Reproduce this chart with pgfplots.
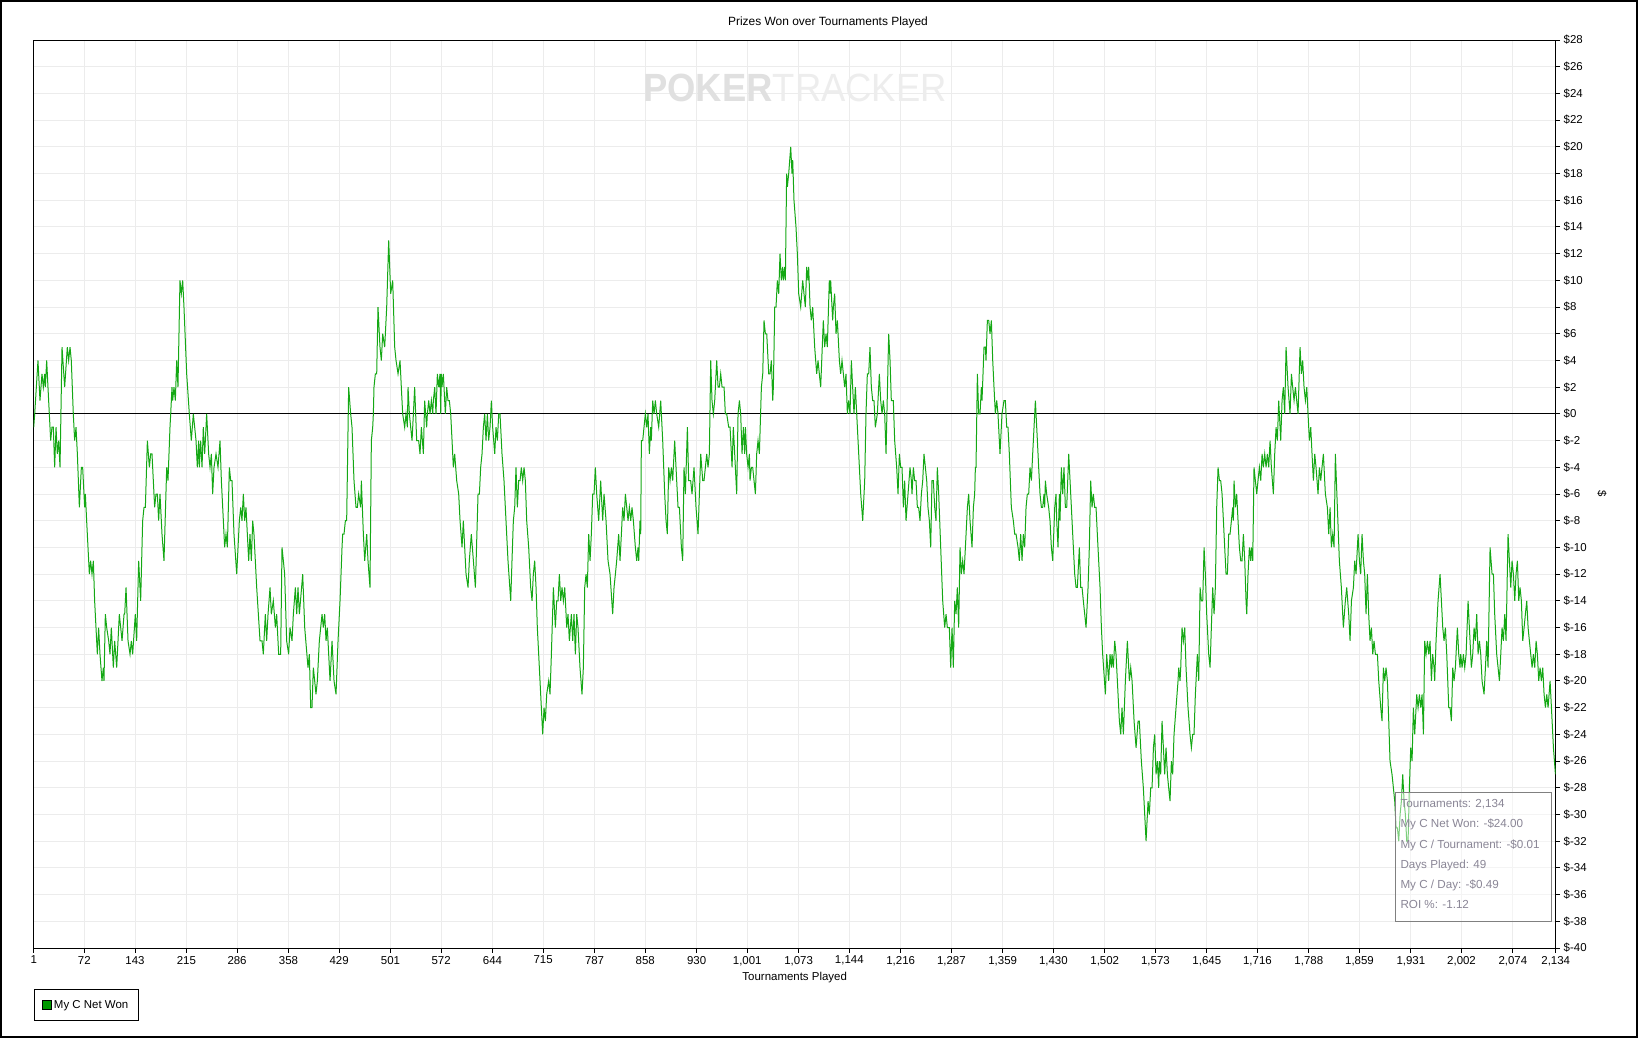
\documentclass[border=0pt]{standalone}
\usepackage{fontspec}
\setmainfont{Liberation Sans}
\usepackage{pgfplots}
\pgfplotsset{compat=1.18}
\definecolor{lineg}{RGB}{20,168,20}
\definecolor{legg}{RGB}{0,153,0}
\definecolor{gridc}{RGB}{236,236,236}
\definecolor{tipc}{RGB}{138,134,150}
\definecolor{wmA}{RGB}{224,224,224}
\definecolor{wmB}{RGB}{237,237,237}
\newcommand{\lbl}{\fontsize{11.5}{13}\selectfont}
\begin{document}
\begin{tikzpicture}[x=1bp,y=1bp]
\useasboundingbox (0,0) rectangle (1640,-1039);
\fill[white] (0,0) rectangle (1640,-1039);
\draw[line width=1.3bp] (1,-1) rectangle (1637,-1037);
\node[font=\fontsize{12}{14}\selectfont] at (828,-22.5) {Prizes Won over Tournaments Played};
\begin{axis}[
  at={(33.7bp,-948bp)}, anchor=south west,
  scale only axis, width=1522bp, height=908bp,
  xmin=1, xmax=2134, ymin=-40, ymax=28,
  axis line style={line width=1bp, black},
  xtick={1,72,143,215,286,358,429,501,572,644,715,787,858,930,1001,1073,1144,1216,1287,1359,1430,1502,1573,1645,1716,1788,1859,1931,2002,2074,2134},
  xticklabels={1,72,143,215,286,358,429,501,572,644,715,787,858,930,{1,001},{1,073},{1,144},{1,216},{1,287},{1,359},{1,430},{1,502},{1,573},{1,645},{1,716},{1,788},{1,859},{1,931},{2,002},{2,074},{2,134}},
  ytick={-40,-38,...,28},
  yticklabels={\$-40,\$-38,\$-36,\$-34,\$-32,\$-30,\$-28,\$-26,\$-24,\$-22,\$-20,\$-18,\$-16,\$-14,\$-12,\$-10,\$-8,\$-6,\$-4,\$-2,\$0,\$2,\$4,\$6,\$8,\$10,\$12,\$14,\$16,\$18,\$20,\$22,\$24,\$26,\$28},
  xtick pos=left, ytick pos=right, yticklabel pos=right,
  tick align=outside, major tick length=4.5bp,
  tick style={black, line width=1bp},
  grid=major, major grid style={gridc, line width=1bp},
  tick label style={font=\lbl},
  /pgf/number format/assume math mode=true,
  xlabel={Tournaments Played},
  xlabel style={font=\lbl, at={(axis description cs:0.5,-0.033)}, anchor=center},
  ylabel={\$},
  ylabel style={font=\lbl, at={(axis description cs:1.0304,0.5)}, anchor=center, rotate=180},
  legend style={at={(axis description cs:0,-0.0455)}, anchor=north west, draw=black, line width=1bp, font=\lbl, inner xsep=8bp, inner ysep=8.5bp},
  legend cell align=left,
  legend image code/.code={\draw[fill=legg, draw=black, line width=0.8bp] (0bp,-4.5bp) rectangle (9bp,4.5bp);},
]
\addplot[black, line width=1bp, forget plot] coordinates {(1,0) (2134,0)};
\addplot[lineg, line width=1bp] table {
x y
1 -1
2.4 0
7.0 4
9.8 1
12.6 3
14.5 2
16.4 3
17.3 2
19.2 4
21.0 2
22.9 0
24.8 -2
26.6 -1
28.5 -1
30.4 -4
32.3 -1
34.1 -3
36.0 -2
37.9 -4
40.7 5
44.4 2
48.1 5
50.0 4
51.9 5
53.7 4
56.5 0
58.4 -2
60.3 -1
62.2 -3
65.0 -7
67.8 -4
69.6 -4
72.4 -7
73.4 -6
75.2 -8
79.0 -12
80.8 -11
82.7 -12
84.6 -11
86.4 -14
90.2 -18
92.0 -16
93.9 -18
96.7 -20
98.6 -19
99.5 -20
101.4 -15
103.3 -16
106.1 -17
107.9 -18
109.8 -16
112.6 -19
114.5 -17
117.3 -19
121.0 -15
124.8 -17
127.6 -15
128.5 -15
130.4 -13
133.2 -17
136.0 -18
137.8 -17
139.7 -18
143.4 -15
145.3 -17
148.1 -11
150.9 -14
153.7 -8
155.6 -7
157.5 -7
160.3 -2
163.1 -4
164.9 -3
166.8 -3
170.5 -7
172.4 -6
174.3 -6
176.1 -8
178.0 -6
180.8 -9
183.6 -11
187.4 -4
189.2 -5
192.0 -1
193.0 0
194.8 2
195.8 1
197.6 2
199.5 1
201.4 4
203.2 2
206.0 10
207.9 9
209.8 10
211.6 8
215.4 3
219.1 0
221.9 -2
224.7 0
226.6 -1
228.5 -2
230.3 -4
232.2 -2
233.1 -4
235.0 -2
236.9 -4
238.7 -1
240.6 -3
243.4 0
246.2 -3
248.1 -4
250.0 -3
251.8 -6
253.7 -4
256.5 -3
259.3 -4
262.1 -2
264.0 -5
266.8 -8
268.6 -10
270.5 -9
272.4 -10
275.2 -4
277.1 -5
278.9 -5
281.7 -9
285.5 -12
289.2 -8
291.1 -7
292.9 -8
294.8 -6
296.7 -8
298.5 -7
300.4 -9
302.3 -11
304.1 -9
306.0 -11
307.9 -8
309.7 -9
313.5 -13
318.2 -17
321.0 -17
322.8 -18
325.6 -15
327.5 -17
329.4 -15
332.2 -13
334.0 -15
336.8 -14
339.7 -16
341.5 -15
344.3 -18
347.1 -18
349.0 -10
350.9 -11
352.7 -12
355.5 -17
358.3 -18
360.2 -16
363.0 -17
364.9 -15
367.7 -13
369.6 -15
371.4 -13
373.3 -15
378.0 -12
380.8 -16
385.4 -19
387.3 -18
389.2 -22
391.0 -22
392.9 -19
394.8 -20
396.6 -21
398.5 -20
401.3 -17
403.2 -16
405.1 -15
406.9 -16
408.8 -15
410.7 -17
412.5 -16
416.3 -20
419.1 -17
421.9 -20
424.7 -21
427.5 -17
430.3 -14
433.1 -10
434.0 -9
435.9 -9
437.8 -8
439.6 -8
442.4 2
445.2 0
447.1 -1
449.9 -5
452.7 -7
454.6 -7
456.4 -6
459.2 -7
460.2 -5
463.0 -9
464.9 -11
467.7 -9
469.5 -11
472.3 -13
474.2 -2
476.1 -1
477.0 0
477.9 2
479.8 3
481.7 3
483.5 8
486.3 5
488.2 4
490.1 6
492.9 5
495.7 8
498.5 13
501.3 9
504.1 10
506.9 5
508.8 4
511.6 3
514.4 4
516.2 2
518.1 0
520.9 -1
522.8 0
524.7 -1
525.6 2
527.5 0
529.3 -1
531.2 -2
533.1 0
534.9 2
537.7 -2
540.5 -2
542.4 -3
544.3 -1
547.1 -3
548.9 1
551.7 -1
552.7 0
554.6 1
556.4 0
558.3 1
560.2 0
561.1 1
563.0 2
564.8 0
566.7 3
568.6 2
570.4 3
571.4 0
572.3 3
573.2 2
575.1 3
577.9 0
579.8 2
581.6 1
583.5 1
585.4 0
587.3 -2
589.1 -4
591.0 -3
593.8 -5
596.6 -6
598.5 -8
601.3 -10
603.1 -8
605.0 -10
606.9 -12
609.7 -13
611.5 -11
614.3 -9
617.2 -11
620.0 -13
623.7 -6
625.6 -6
627.4 -4
629.3 -3
631.2 -1
633.0 0
634.9 -2
636.8 0
638.6 -2
640.5 -1
642.4 1
644.2 -1
647.1 -3
648.9 -1
650.8 -2
652.7 0
654.5 0
657.3 -3
660.1 -5
662.9 -8
665.7 -11
669.5 -14
671.3 -11
673.2 -8
675.1 -7
676.9 -4
678.8 -7
680.7 -5
682.6 -5
684.4 -4
686.3 -5
688.2 -4
690.0 -5
691.9 -8
694.7 -10
697.5 -13
699.4 -14
701.2 -12
703.1 -11
705.0 -13
706.8 -16
708.7 -18
711.5 -21
714.3 -24
716.2 -22
718.1 -23
719.9 -21
722.7 -20
724.6 -21
726.5 -18
729.3 -13
732.1 -16
733.9 -14
735.8 -14
737.7 -12
739.6 -14
741.4 -13
743.3 -14
745.2 -13
748.0 -16
749.8 -15
751.7 -17
754.5 -15
756.4 -17
758.2 -15
760.1 -18
762.0 -15
763.8 -16
766.6 -19
769.4 -21
771.3 -19
773.2 -13
775.1 -12
776.9 -13
778.8 -9
780.7 -11
782.5 -9
784.4 -6
786.3 -6
788.1 -4
790.0 -6
792.8 -8
795.6 -5
798.4 -8
800.3 -6
803.1 -8
805.9 -11
808.7 -12
812.4 -15
814.3 -13
816.2 -12
818.0 -11
820.8 -9
822.7 -11
824.6 -9
826.4 -7
828.3 -8
830.2 -6
832.1 -7
833.9 -8
835.8 -7
837.7 -8
839.5 -7
841.4 -8
844.2 -10
846.1 -11
847.9 -10
848.9 -11
850.7 -8
851.7 -9
852.6 -2
854.5 -2
856.3 -1
858.2 0
860.1 -1
861.9 0
863.8 -3
865.7 -1
866.6 -2
868.5 1
870.4 0
872.2 1
874.1 0
876.9 -1
879.7 1
882.5 -2
885.3 -6
887.2 -8
889.0 -9
890.9 -4
892.8 -5
894.7 -4
896.5 -5
899.3 -2
902.1 -5
904.0 -7
905.9 -7
908.7 -10
910.5 -11
912.4 -4
914.3 -6
917.1 -1
918.9 -5
921.7 -5
923.6 -6
926.4 -4
929.2 -7
932.0 -9
933.9 -6
935.8 -3
938.6 -5
940.4 -5
942.3 -4
944.2 -3
946.0 -4
947.9 -3
949.8 4
951.6 1
953.5 0
955.4 1
958.2 4
960.1 2
961.9 2
963.8 3
965.7 2
968.5 2
970.3 0
972.2 0
975.0 -1
976.9 -1
979.7 -4
981.5 -1
983.4 -3
986.2 -6
988.1 0
990.0 1
991.8 0
993.7 -3
995.6 -1
997.4 -3
998.4 -1
1000.2 -3
1002.1 -4
1004.0 -3
1004.9 -5
1006.8 -4
1008.6 -4
1010.5 -5
1012.4 -6
1014.2 -3
1016.1 -2
1018.0 -3
1020.8 2
1022.7 3
1024.5 7
1026.4 6
1028.3 6
1031.1 3
1032.9 3
1034.8 4
1036.7 1
1037.6 2
1039.5 8
1041.3 8
1043.2 10
1045.1 9
1046.9 12
1048.8 10
1050.6 11
1051.6 10
1053.4 11
1054.4 10
1056.2 18
1057.2 17
1059.1 18
1061.9 20
1063.7 18
1064.7 19
1066.5 16
1069.3 14
1071.2 12
1073.1 9
1075.9 8
1078.7 10
1080.5 9
1082.4 8
1084.3 11
1086.1 10
1087.1 11
1089.0 8
1090.8 7
1092.7 8
1095.5 5
1098.3 3
1100.2 4
1102.0 3
1103.9 2
1107.6 7
1109.5 5
1111.4 6
1113.2 5
1116.0 10
1117.0 9
1117.9 10
1120.7 7
1121.7 8
1123.5 9
1125.4 6
1127.3 7
1130.1 4
1131.9 3
1133.8 4
1135.7 3
1137.5 2
1139.4 3
1141.3 0
1143.1 1
1145.0 0
1146.9 4
1148.7 2
1150.6 0
1152.5 2
1154.4 0
1157.2 -3
1160.0 -6
1162.8 -8
1165.6 -5
1167.4 0
1169.3 3
1171.2 3
1173.0 5
1174.9 2
1176.8 1
1178.6 1
1180.5 -1
1183.3 0
1186.1 3
1188.0 1
1189.9 0
1191.7 1
1193.6 0
1195.5 -3
1199.2 6
1201.1 4
1202.9 1
1205.7 1
1207.6 -2
1210.4 -4
1212.3 -6
1214.2 -3
1216.0 -4
1217.9 -4
1219.8 -7
1221.6 -5
1223.5 -8
1226.3 -6
1229.1 -4
1231.0 -5
1231.9 -6
1233.8 -4
1235.6 -5
1237.5 -5
1239.4 -7
1241.2 -7
1243.1 -8
1245.0 -6
1246.9 -5
1248.7 -3
1250.6 -4
1252.5 -5
1254.3 -7
1256.2 -8
1258.1 -10
1259.9 -5
1261.8 -5
1263.7 -7
1265.5 -8
1267.4 -4
1269.3 -6
1272.1 -10
1274.9 -14
1277.7 -16
1279.6 -15
1281.4 -16
1284.2 -16
1286.1 -19
1288.0 -16
1289.8 -19
1291.7 -14
1293.6 -15
1295.4 -13
1297.3 -16
1299.2 -10
1301.0 -12
1302.9 -11
1304.8 -12
1306.7 -10
1309.5 -7
1311.3 -6
1313.2 -8
1316.0 -10
1317.9 -7
1319.7 -6
1320.7 -4
1321.6 -4
1323.5 3
1325.3 0
1327.2 0
1329.1 2
1330.0 1
1332.8 5
1334.7 5
1335.6 4
1337.5 7
1339.4 7
1341.2 6
1343.1 7
1345.0 4
1346.8 2
1348.7 0
1350.6 1
1352.4 0
1355.2 -3
1358.0 0
1360.8 1
1362.7 1
1364.6 -1
1366.4 -1
1368.3 -3
1371.1 -7
1373.9 -8
1375.8 -9
1377.7 -9
1380.5 -10
1382.3 -11
1384.2 -9
1386.1 -11
1387.9 -9
1389.8 -10
1391.7 -7
1393.5 -6
1395.4 -6
1397.3 -4
1399.2 -5
1401.0 -3
1402.9 -1
1404.8 1
1405.7 0
1407.6 -2
1409.4 -4
1411.3 -6
1413.2 -7
1415.0 -7
1416.9 -6
1417.8 -7
1418.8 -5
1420.6 -6
1423.4 -7
1425.3 -8
1427.2 -10
1429.1 -11
1431.9 -7
1433.7 -6
1434.7 -8
1436.5 -10
1438.4 -6
1439.3 -8
1441.2 -4
1443.1 -6
1444.9 -4
1446.8 -7
1448.7 -7
1451.5 -3
1454.3 -6
1457.1 -9
1459.9 -12
1461.8 -13
1463.6 -13
1466.4 -10
1468.3 -13
1470.2 -13
1472.0 -14
1473.9 -15
1475.8 -16
1478.6 -13
1480.4 -10
1482.3 -5
1484.2 -7
1486.0 -6
1487.9 -7
1489.8 -7
1491.6 -9
1493.5 -11
1495.4 -13
1497.3 -16
1499.1 -18
1502.9 -21
1504.7 -18
1507.5 -20
1509.4 -18
1511.3 -19
1512.2 -18
1514.1 -19
1516.0 -17
1517.8 -18
1519.7 -20
1522.5 -23
1524.4 -24
1526.2 -22
1528.1 -24
1530.9 -20
1533.7 -17
1536.5 -20
1538.4 -19
1540.3 -20
1543.1 -23
1545.9 -25
1548.7 -23
1550.5 -23
1553.3 -26
1556.1 -28
1558.0 -30
1559.9 -32
1562.7 -29
1564.5 -30
1566.4 -28
1568.3 -28
1570.2 -25
1572.0 -24
1573.9 -27
1575.8 -26
1577.6 -28
1578.6 -26
1580.4 -27
1582.3 -23
1584.2 -25
1586.0 -27
1587.9 -25
1589.8 -27
1591.6 -28
1593.5 -29
1595.4 -26
1597.2 -27
1599.1 -24
1601.9 -22
1604.7 -20
1605.7 -19
1607.5 -20
1608.5 -19
1610.3 -16
1612.2 -17
1614.1 -16
1615.9 -19
1618.7 -22
1621.5 -24
1623.4 -25
1625.3 -24
1627.1 -24
1629.0 -21
1631.8 -18
1633.7 -20
1635.6 -13
1637.4 -14
1639.3 -14
1641.2 -10
1643.0 -12
1644.9 -15
1647.7 -18
1649.6 -19
1651.4 -16
1653.3 -13
1655.2 -15
1657.0 -13
1658.9 -7
1660.8 -4
1662.7 -5
1664.5 -5
1666.4 -6
1668.3 -8
1670.1 -10
1672.0 -12
1673.9 -12
1675.7 -9
1677.6 -9
1679.5 -8
1681.3 -7
1682.3 -8
1683.2 -5
1685.1 -7
1686.9 -6
1688.8 -8
1690.7 -10
1692.6 -11
1694.4 -11
1696.3 -9
1698.2 -11
1700.0 -14
1701.0 -15
1702.8 -12
1704.7 -10
1706.6 -11
1707.5 -10
1709.4 -11
1711.2 -4
1713.1 -5
1715.0 -6
1716.8 -5
1718.7 -4
1720.6 -5
1722.5 -3
1724.3 -4
1726.2 -3
1728.1 -4
1729.9 -3
1731.8 -4
1733.7 -2
1735.5 -4
1738.3 -6
1740.2 -3
1742.1 -1
1743.9 -2
1745.8 1
1747.7 -1
1748.6 -2
1750.5 1
1752.3 2
1754.2 0
1756.1 5
1758.9 2
1761.7 0
1763.6 3
1765.4 2
1767.3 1
1769.2 2
1771.0 1
1772.9 0
1775.7 5
1777.6 3
1779.4 4
1781.3 2
1783.2 1
1785.1 2
1786.9 0
1788.8 -2
1790.7 -1
1792.5 -3
1794.4 -5
1796.3 -3
1798.1 -4
1800.9 -6
1802.8 -4
1804.7 -5
1806.5 -4
1808.4 -3
1811.2 -6
1814.0 -7
1815.9 -9
1817.8 -7
1819.6 -10
1821.5 -9
1823.4 -10
1825.2 -3
1828.0 -7
1830.8 -11
1833.6 -13
1836.4 -16
1839.2 -14
1841.1 -13
1843.9 -15
1845.8 -17
1847.7 -14
1850.5 -13
1852.3 -11
1854.2 -12
1855.1 -11
1857.0 -9
1858.9 -11
1860.7 -12
1862.6 -9
1864.5 -11
1866.3 -12
1868.2 -15
1870.1 -12
1871.9 -15
1873.8 -17
1875.7 -16
1877.6 -18
1879.4 -17
1881.3 -18
1884.1 -18
1886.0 -20
1888.8 -22
1890.6 -23
1892.5 -19
1894.4 -20
1896.2 -19
1898.1 -20
1900.0 -23
1901.8 -26
1904.6 -27
1906.5 -28
1908.4 -29
1910.3 -31
1912.1 -31
1914.0 -32
1915.9 -30
1917.7 -29
1919.6 -27
1921.5 -29
1923.3 -30
1925.2 -32
1927.1 -32
1928.9 -28
1930.8 -25
1932.7 -26
1934.5 -22
1936.4 -24
1938.3 -22
1939.2 -21
1941.1 -22
1943.0 -21
1944.8 -22
1946.7 -21
1948.6 -24
1950.4 -17
1952.3 -18
1954.2 -17
1956.0 -18
1957.9 -17
1959.8 -20
1961.6 -18
1963.5 -19
1964.4 -20
1966.3 -17
1969.1 -14
1971.9 -12
1973.8 -14
1975.7 -16
1977.5 -17
1979.4 -16
1981.3 -18
1984.1 -22
1985.9 -22
1987.8 -23
1989.7 -19
1991.5 -20
1993.4 -19
1996.2 -16
1998.1 -18
1999.9 -19
2000.9 -18
2002.8 -19
2004.6 -18
2006.5 -19
2008.4 -18
2011.2 -14
2013.0 -16
2015.8 -19
2017.7 -18
2019.6 -16
2021.4 -17
2023.3 -15
2025.2 -18
2027.1 -17
2028.9 -18
2030.8 -20
2033.6 -21
2035.5 -19
2037.3 -17
2039.2 -19
2042.0 -10
2044.8 -12
2046.7 -12
2048.5 -15
2051.3 -18
2053.2 -19
2055.1 -20
2057.0 -18
2058.8 -16
2060.7 -17
2062.6 -15
2064.4 -17
2067.2 -9
2069.1 -11
2071.0 -13
2072.8 -11
2074.7 -12
2076.6 -14
2078.4 -12
2080.3 -11
2082.2 -14
2084.0 -13
2085.9 -14
2087.8 -17
2089.7 -16
2091.5 -15
2093.4 -14
2095.3 -16
2097.1 -17
2099.0 -18
2100.9 -19
2102.7 -18
2104.6 -19
2106.5 -17
2108.3 -18
2110.2 -20
2112.1 -19
2113.9 -20
2115.8 -19
2117.7 -21
2119.6 -22
2121.4 -21
2123.3 -22
2126.1 -20
2128.0 -22
2130.8 -25
2133.6 -27
};
\addlegendentry{My C Net Won}
\end{axis}
\node[font=\fontsize{39.5}{40}\selectfont, xscale=0.925, inner sep=0pt] at (795,-87.5) {\textcolor{wmA}{\textbf{POKER}}\textcolor{wmB}{TRACKER}};
\draw[draw=gray, line width=1bp, fill=white, fill opacity=0.45] (1395.7,-792) rectangle (1551,-921);
\begin{scope}[every node/.style={anchor=west, inner sep=0pt, text=tipc, font=\fontsize{11.7}{13}\selectfont}]
\node at (1400.3,-804.3) {Tournaments: 2,134};
\node at (1400.3,-824.7) {My C Net Won: -\$24.00};
\node at (1400.3,-845) {My C / Tournament: -\$0.01};
\node at (1400.3,-865) {Days Played: 49};
\node at (1400.3,-885) {My C / Day: -\$0.49};
\node at (1400.3,-904.7) {ROI \%: -1.12};
\end{scope}
\end{tikzpicture}
\end{document}
